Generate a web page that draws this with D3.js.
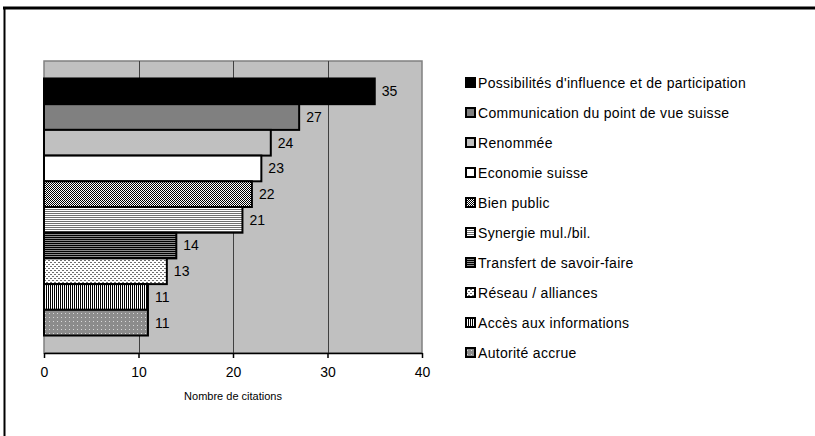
<!DOCTYPE html>
<html>
<head>
<meta charset="utf-8">
<script src="https://cdn.jsdelivr.net/npm/d3@7"></script>
<style>
  html, body { margin: 0; padding: 0; background: #fff; }
  svg { display: block; font-family: "Liberation Sans", Arial, sans-serif; }
</style>
</head>
<body>
<svg id="chart" width="815" height="436"></svg>
<script>
// Motifs cités et nombre de citations
const categories = [
  "Possibilités d'influence et de participation",
  "Communication du point de vue suisse",
  "Renommée",
  "Economie suisse",
  "Bien public",
  "Synergie mul./bil.",
  "Transfert de savoir-faire",
  "Réseau / alliances",
  "Accès aux informations",
  "Autorité accrue"
];
const values = [35, 27, 24, 23, 22, 21, 14, 13, 11, 11];
const fills = ["black", "gray", "silver", "white", "checker", "hlines", "hdark", "dashes", "vlines", "dots"];
const xTicks = [0, 10, 20, 30, 40];
const xTitle = "Nombre de citations";

const svg = d3.select("#chart");
const defs = svg.append("defs");

// Fill patterns
function pattern(id, w, h, bg, marks) {
  const p = defs.append("pattern").attr("id", id)
    .attr("patternUnits", "userSpaceOnUse").attr("width", w).attr("height", h);
  p.append("rect").attr("width", w).attr("height", h).attr("fill", bg);
  marks.forEach(m => p.append("rect").attr("x", m[0]).attr("y", m[1])
    .attr("width", m[2]).attr("height", m[3]).attr("fill", m[4]));
}
pattern("checker", 2, 2, "#ffffff", [[0, 0, 1, 1, "#000"], [1, 1, 1, 1, "#000"]]);
pattern("hlines", 2, 2, "#ffffff", [[0, 1, 2, 1, "#707070"]]);
pattern("hdark", 2, 2, "#8a8a8a", [[0, 1, 2, 1, "#000"]]);
pattern("dashes", 4, 4, "#ffffff", [[0, 0, 2, 1, "#707070"], [2, 2, 2, 1, "#707070"]]);
pattern("vlines", 2, 2, "#ffffff", [[0, 0, 1, 2, "#000"]]);
pattern("dots", 4, 4, "#8c8c8c", [[1, 1, 1, 1, "#d8d8d8"]]);

const solid = { black: "#000000", gray: "#808080", silver: "#c0c0c0", white: "#ffffff" };
const fillOf = k => solid[k] || `url(#${k})`;

// Outer frame
svg.append("line").attr("x1", 3).attr("x2", 815).attr("y1", 8).attr("y2", 8)
  .attr("stroke", "#000").attr("stroke-width", 3);
svg.append("line").attr("x1", 4.5).attr("x2", 4.5).attr("y1", 7).attr("y2", 436)
  .attr("stroke", "#000").attr("stroke-width", 2);

// Plot area
const plot = { left: 44, right: 422, top: 61, bottom: 353 };
const x = d3.scaleLinear().domain([0, 40]).range([plot.left, plot.right]);
const y = d3.scaleBand().domain(categories).range([plot.top, plot.bottom])
  .paddingInner(0).paddingOuter(0.68);

svg.append("rect").attr("x", plot.left).attr("y", plot.top)
  .attr("width", plot.right - plot.left).attr("height", plot.bottom - plot.top)
  .attr("fill", "#c0c0c0").attr("stroke", "#808080").attr("stroke-width", 1.5);

// Vertical gridlines
svg.append("g").selectAll("line").data(xTicks.slice(1, -1)).join("line")
  .attr("x1", d => Math.round(x(d)) + 0.5).attr("x2", d => Math.round(x(d)) + 0.5)
  .attr("y1", plot.top).attr("y2", plot.bottom)
  .attr("stroke", "#404040").attr("stroke-width", 1);

// Bars
svg.append("g").selectAll("rect").data(categories).join("rect")
  .attr("x", x(0))
  .attr("y", d => y(d))
  .attr("width", (d, i) => x(values[i]) - x(0))
  .attr("height", y.bandwidth())
  .attr("fill", (d, i) => fillOf(fills[i]))
  .attr("stroke", "#000").attr("stroke-width", 2);

// Value labels
svg.append("g").selectAll("text").data(categories).join("text")
  .attr("x", (d, i) => x(values[i]) + 7)
  .attr("y", d => y(d) + y.bandwidth() / 2)
  .attr("dy", "0.35em")
  .attr("font-size", 14).attr("fill", "#000")
  .text((d, i) => values[i]);

// X axis
const axis = svg.append("g").attr("transform", `translate(0,${plot.bottom})`)
  .call(d3.axisBottom(x).tickValues(xTicks).tickSize(5).tickSizeOuter(0).tickPadding(9));
axis.select(".domain").attr("stroke", "#000").attr("stroke-width", 1.5);
axis.selectAll(".tick line").attr("stroke", "#000").attr("stroke-width", 1.5);
axis.selectAll(".tick text").attr("font-size", 14).attr("fill", "#000")
  .attr("font-family", "Liberation Sans, Arial, sans-serif");

svg.append("text").attr("x", x(20)).attr("y", 400)
  .attr("text-anchor", "middle").attr("font-size", 11).attr("fill", "#000")
  .text(xTitle);

// Legend
const legend = svg.append("g").selectAll("g").data(categories).join("g")
  .attr("transform", (d, i) => `translate(466,${83 + i * 30})`);
legend.append("rect").attr("x", 0).attr("y", -5).attr("width", 9).attr("height", 9)
  .attr("fill", (d, i) => fillOf(fills[i]))
  .attr("stroke", "#000").attr("stroke-width", 2);
legend.append("text").attr("x", 12).attr("y", 0).attr("dy", "0.35em")
  .attr("font-size", 14).attr("letter-spacing", 0.3).attr("fill", "#000")
  .text(d => d);
</script>
</body>
</html>
